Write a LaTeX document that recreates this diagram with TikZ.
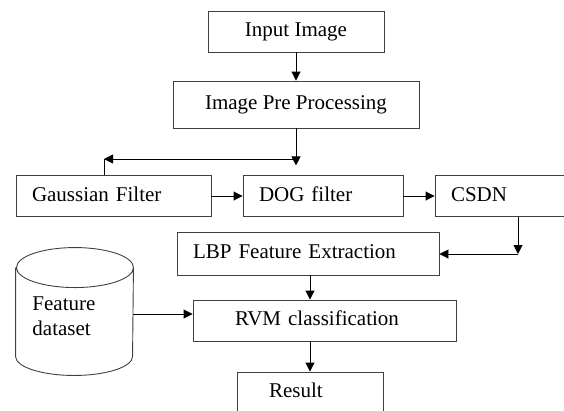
\documentclass[tikz,border=0pt]{standalone}
\usepackage{fontspec}
\setmainfont{Liberation Serif}
\usetikzlibrary{arrows.meta}

\begin{document}
\begin{tikzpicture}
[x=1pt,y=-1pt,line width=0.9pt,
 box/.style={draw=black!75,minimum height=41pt,inner ysep=0pt,
   text height=14pt,text depth=4pt,font=\fontsize{21}{25}\selectfont},
 lbox/.style={box,align=left,inner xsep=16pt,text width=#1},
 arr/.style={-{Triangle[length=9pt,width=9pt]}}]

  \useasboundingbox (0,0) rectangle (564,410);

  \node[box,minimum width=176pt] (inp) at (296,31.5) {Input Image};
  \node[box,minimum width=246pt,minimum height=47pt] (ipp) at (296,104.5) {Image Pre Processing};

  \node[lbox=163pt] (gauss) at (113.5,196) {Gaussian Filter};
  \node[lbox=128pt] (dog) at (323,196) {DOG filter};
  \node[lbox=133pt] (csdn) at (517.5,196) {CSDN};
  \node[lbox=230pt,minimum height=43pt] (lbp) at (308,253.5) {LBP Feature Extraction};

  % feature dataset drum
  \node[minimum width=117pt,minimum height=127pt,inner sep=0pt] (data) at (74.5,311.5) {};
  \draw[draw=black!75] ([yshift=-20pt]data.north west) -- ([yshift=19pt]data.south west)
    arc[start angle=180,end angle=360,x radius=58.5pt,y radius=19pt]
    -- ([yshift=-20pt]data.north east)
    arc[start angle=0,end angle=360,x radius=58.5pt,y radius=20pt];
  \node[anchor=north west,inner sep=0pt,align=left,
        font=\fontsize{21}{25}\selectfont] (datatxt) at (32,296) {Feature\\dataset};

  \node[lbox=179pt,inner xsep=42pt] (rvm) at (324.5,320.5) {RVM classification};
  \node[lbox=82pt,inner xsep=32pt,minimum height=40pt] (res) at (310,392) {Result};

  \coordinate (turn) at (104,159);
  \coordinate (bend) at (518,254);

  \draw[arr] (inp) -- (ipp);
  \draw[arr] (ipp.south) -- ++(0,37);
  \draw[arr] (ipp.south |- turn) -- (turn);
  \draw (turn) -- (turn |- gauss.north);
  \draw[arr] (gauss) -- (dog);
  \draw[arr] (dog) -- (csdn);
  \draw[arr] (csdn.south -| bend) -- (bend);
  \draw[arr] (bend) -- (lbp.east |- bend);
  \draw[arr] (lbp.south -| res) -- (rvm.north -| res);
  \draw[arr] (rvm.south -| res) -- (res);
  \draw[arr] (data.east |- 0,314) -- (rvm.west |- 0,314);
\end{tikzpicture}
\end{document}
